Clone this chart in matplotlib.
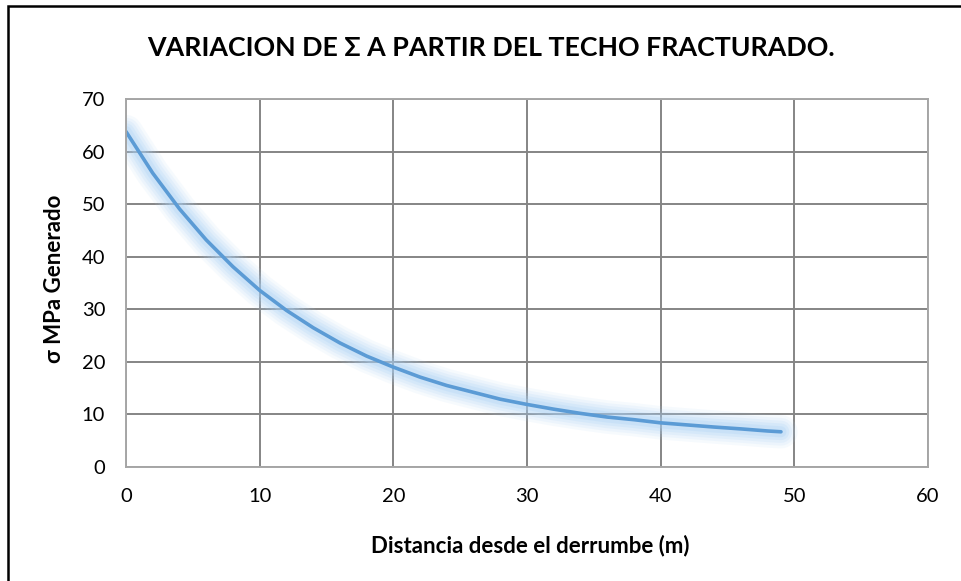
import matplotlib
matplotlib.use("Agg")
import matplotlib.pyplot as plt
from matplotlib.patches import Rectangle

# Data
distance_m = [0, 2, 4, 6, 8, 10, 12, 14, 16, 18, 20, 22, 24, 26, 28, 30,
              32, 34, 36, 38, 40, 42, 44, 46, 48, 49]
sigma_mpa = [63.8, 55.9, 49.1, 43.2, 38.1, 33.6, 29.8, 26.5, 23.6, 21.1, 19.0,
             17.1, 15.5, 14.2, 12.9, 11.9, 11.0, 10.2, 9.5, 9.0, 8.4, 8.0,
             7.6, 7.25, 6.85, 6.7]
x_ticks = [0, 10, 20, 30, 40, 50, 60]
y_ticks = [0, 10, 20, 30, 40, 50, 60, 70]

title = "VARIACION DE Σ A PARTIR DEL TECHO FRACTURADO."
xlabel = "Distancia desde el derrumbe (m)"
ylabel = "σ MPa Generado"

W, H = 961, 581
fig = plt.figure(figsize=(W / 100, H / 100), dpi=100)
plt.rcParams['font.family'] = ['Lato', 'DejaVu Sans']

# outer border (extends beyond right/bottom edge)
fig.patches.append(Rectangle((8 / W, -0.1), 1.2, 1 - 6 / H + 0.1,
                             transform=fig.transFigure, fill=False,
                             edgecolor='black', linewidth=1.8, zorder=0))

left, right, top, bottom = 126, 928, 99, 467
ax = fig.add_axes([left / W, 1 - bottom / H, (right - left) / W, (bottom - top) / H])
ax.set_xlim(0, 60)
ax.set_ylim(0, 70)
ax.set_xticks(x_ticks)
ax.set_yticks(y_ticks)
ax.grid(True, color='#858585', linewidth=1.4)
ax.set_axisbelow(True)
for s in ax.spines.values():
    s.set_color('#a6a6a6')
    s.set_linewidth(1.4)
ax.tick_params(length=0, labelsize=14.5, colors='black')
ax.tick_params(axis='x', pad=15)
ax.tick_params(axis='y', pad=15)

# glow effect
glow = '#a9d0f5'
for lw, a in [(24, 0.10), (20, 0.12), (16, 0.16), (12, 0.2), (8, 0.25)]:
    ax.plot(distance_m, sigma_mpa, color=glow, linewidth=lw, alpha=a,
            solid_capstyle='round', solid_joinstyle='round')
ax.plot(distance_m, sigma_mpa, color='#5b9bd5', linewidth=2.6,
        solid_capstyle='round', solid_joinstyle='round')

fig.text(491 / W, 1 - 48 / H, title, ha='center', va='center',
         fontsize=19.3, fontweight='bold')
fig.text(530 / W, 1 - 546 / H, xlabel, ha='center', va='center',
         fontsize=16, fontweight='bold')
fig.text(55 / W, 1 - 279 / H, ylabel, ha='center', va='center',
         fontsize=16, fontweight='bold', rotation=90)

fig.savefig('out.png', dpi=100)
